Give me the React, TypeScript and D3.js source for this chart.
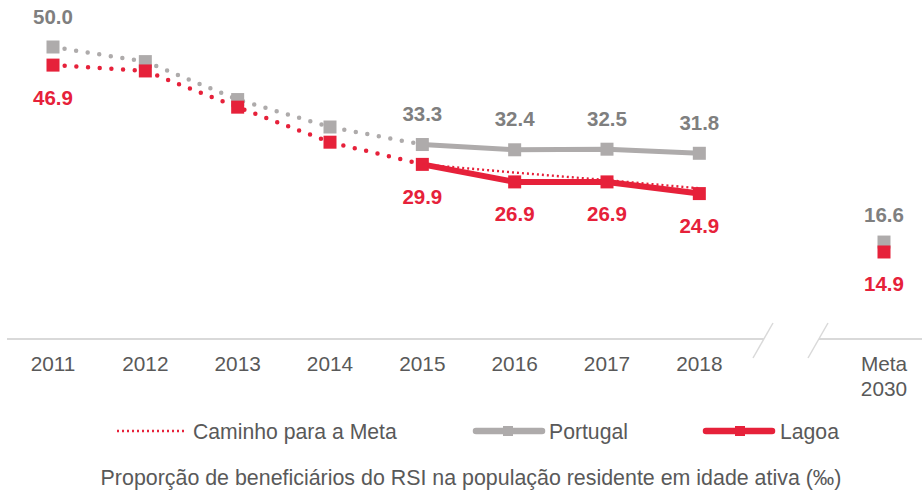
import React from "react";
import * as d3 from "d3";

const categories = ["2011", "2012", "2013", "2014", "2015", "2016", "2017", "2018"];
const portugal = [50.0, 47.5, 41.0, 36.3, 33.3, 32.4, 32.5, 31.8];
const lagoa = [46.9, 45.9, 39.7, 33.7, 29.9, 26.9, 26.9, 24.9];
const portugalLabels = ["50.0", "", "", "", "33.3", "32.4", "32.5", "31.8"];
const lagoaLabels = ["46.9", "", "", "", "29.9", "26.9", "26.9", "24.9"];
const metaCategory = ["Meta", "2030"];
const metaPortugal = 16.6;
const metaLagoa = 14.9;
const caminhoStart = 4;
const caminho = [29.9, 28.5, 27.2, 25.8];
const dottedEnd = 4;
const metaIndex = 9;
const legendLabels = ["Caminho para a Meta", "Portugal", "Lagoa"];
const title = "Proporção de beneficiários do RSI na população residente em idade ativa (‰)";

const RED = "#E6213A";
const GRAY = "#AEABAB";
const GRAY_TEXT = "#7F7F7F";
const AXIS_TEXT = "#595959";
const FONT = "'Liberation Sans', Arial, sans-serif";

export default function App() {
  const x = d3.scaleLinear().domain([0, metaIndex]).range([53, 884]);
  const y = d3.scaleLinear().domain([0, 50]).range([339, 47]);
  const line = d3
    .line<[number, number]>()
    .x((d) => x(d[0]))
    .y((d) => y(d[1]));

  const ptsP = portugal.map((v, i) => [i, v] as [number, number]);
  const ptsL = lagoa.map((v, i) => [i, v] as [number, number]);
  const dotP = ptsP.slice(0, dottedEnd + 1);
  const dotL = ptsL.slice(0, dottedEnd + 1);
  const solP = ptsP.slice(dottedEnd);
  const solL = ptsL.slice(dottedEnd);
  const cam = caminho.map((v, i) => [caminhoStart + i, v] as [number, number]);

  const sq = 13;
  const sqLeg = 10;
  const legY = 431;

  return (
    <svg
      width={922}
      height={497}
      style={{ position: "absolute", left: 0, top: 0, display: "block", background: "#fff" }}
      fontFamily={FONT}
    >
      {/* axis */}
      <line x1={7} x2={764} y1={339} y2={339} stroke="#D9D9D9" strokeWidth={2} />
      <line x1={819} x2={922} y1={339} y2={339} stroke="#D9D9D9" strokeWidth={2} />
      <line x1={773} y1={323} x2={753} y2={358} stroke="#D9D9D9" strokeWidth={1.5} />
      <line x1={828} y1={323} x2={808} y2={358} stroke="#D9D9D9" strokeWidth={1.5} />

      {categories.map((c, i) => (
        <text key={c} x={x(i)} y={363} textAnchor="middle" dominantBaseline="central" fontSize={20.8} fill={AXIS_TEXT}>
          {c}
        </text>
      ))}
      {metaCategory.map((c, i) => (
        <text key={c} x={x(metaIndex)} y={363 + i * 25} textAnchor="middle" dominantBaseline="central" fontSize={20.8} fill={AXIS_TEXT}>
          {c}
        </text>
      ))}

      {/* dotted historical lines */}
      <path d={line(dotP) || ""} fill="none" stroke={GRAY} strokeWidth={4.5} strokeLinecap="round" strokeDasharray="0 11.7" />
      <path d={line(dotL) || ""} fill="none" stroke={RED} strokeWidth={4.5} strokeLinecap="round" strokeDasharray="0 11.7" />

      {/* solid lines */}
      <path d={line(solP) || ""} fill="none" stroke={GRAY} strokeWidth={5} />
      <path d={line(solL) || ""} fill="none" stroke={RED} strokeWidth={6} />

      {/* markers */}
      {ptsP.map(([i, v]) => (
        <rect key={"p" + i} x={x(i) - sq / 2} y={y(v) - sq / 2} width={sq} height={sq} fill={GRAY} />
      ))}
      {ptsL.map(([i, v]) => (
        <rect key={"l" + i} x={x(i) - sq / 2} y={y(v) - sq / 2} width={sq} height={sq} fill={RED} />
      ))}
      <rect x={x(metaIndex) - sq / 2} y={y(metaPortugal) - sq / 2} width={sq} height={sq} fill={GRAY} />
      <rect x={x(metaIndex) - sq / 2} y={y(metaLagoa) - sq / 2} width={sq} height={sq} fill={RED} />

      {/* caminho */}
      <path d={line(cam) || ""} fill="none" stroke={RED} strokeWidth={2.4} strokeDasharray="2 3" />

      {/* labels */}
      {ptsP.map(([i, v]) =>
        portugalLabels[i] ? (
          <text key={"tp" + i} x={x(i)} y={y(v) - 31} textAnchor="middle" dominantBaseline="central" fontSize={20.5} fontWeight="bold" fill={GRAY_TEXT}>
            {portugalLabels[i]}
          </text>
        ) : null
      )}
      {ptsL.map(([i, v]) =>
        lagoaLabels[i] ? (
          <text key={"tl" + i} x={x(i)} y={y(v) + 32} textAnchor="middle" dominantBaseline="central" fontSize={20.5} fontWeight="bold" fill={RED}>
            {lagoaLabels[i]}
          </text>
        ) : null
      )}
      <text x={x(metaIndex)} y={y(metaPortugal) - 28} textAnchor="middle" dominantBaseline="central" fontSize={20.5} fontWeight="bold" fill={GRAY_TEXT}>
        {metaPortugal.toFixed(1)}
      </text>
      <text x={x(metaIndex)} y={y(metaLagoa) + 32} textAnchor="middle" dominantBaseline="central" fontSize={20.5} fontWeight="bold" fill={RED}>
        {metaLagoa.toFixed(1)}
      </text>

      {/* legend */}
      <line x1={117} x2={184} y1={legY} y2={legY} stroke={RED} strokeWidth={2.4} strokeDasharray="2 3" />
      <text x={193} y={legY} dominantBaseline="central" fontSize={21.2} fill={AXIS_TEXT}>
        {legendLabels[0]}
      </text>
      <line x1={476} x2={542} y1={legY} y2={legY} stroke={GRAY} strokeWidth={6.5} strokeLinecap="round" />
      <rect x={508 - sqLeg / 2} y={legY - sqLeg / 2} width={sqLeg} height={sqLeg} fill={GRAY} />
      <text x={549} y={legY} dominantBaseline="central" fontSize={21.2} fill={AXIS_TEXT}>
        {legendLabels[1]}
      </text>
      <line x1={706} x2={772} y1={legY} y2={legY} stroke={RED} strokeWidth={6.5} strokeLinecap="round" />
      <rect x={740 - sqLeg / 2} y={legY - sqLeg / 2} width={sqLeg} height={sqLeg} fill={RED} />
      <text x={780} y={legY} dominantBaseline="central" fontSize={21.2} fill={AXIS_TEXT}>
        {legendLabels[2]}
      </text>

      <text x={471} y={478} textAnchor="middle" dominantBaseline="central" fontSize={21.4} fill={AXIS_TEXT}>
        {title}
      </text>
    </svg>
  );
}
